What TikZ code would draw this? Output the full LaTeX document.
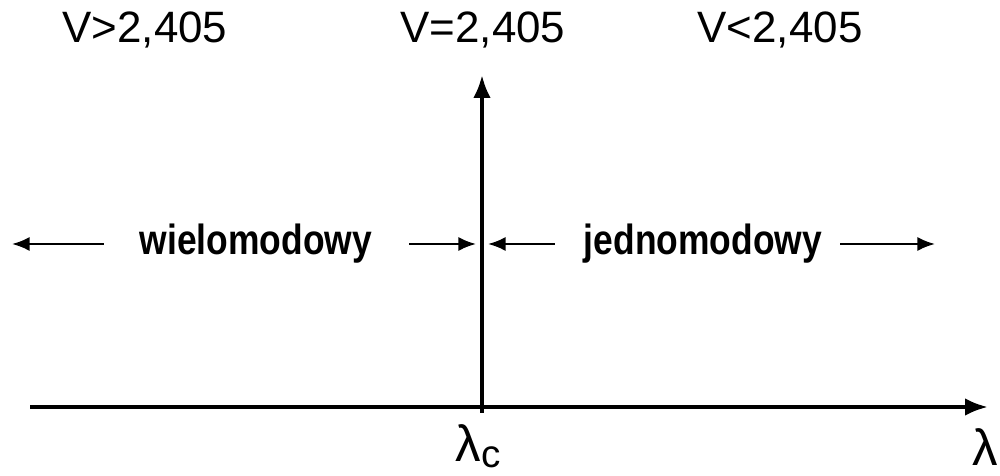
\documentclass[tikz,border=0pt]{standalone}
\usepackage{fontspec}
\setmainfont{Liberation Sans}
\newfontfamily\narrowsf[FakeStretch=0.84]{Liberation Sans}
\usetikzlibrary{arrows.meta,positioning,calc}
\tikzset{
  axis/.style    = {-{Latex[length=13pt,width=10pt]}, line width=2.3pt},
  arr/.style     = {-{Latex[length=10pt,width=8pt]}, line width=1.3pt},
  vlabel/.style  = {font=\fontsize{25}{30}\selectfont, inner sep=0pt},
  region/.style  = {font=\narrowsf\fontsize{24}{28}\selectfont\bfseries, inner sep=0pt},
  lab/.style     = {font=\fontsize{29}{32}\selectfont, inner sep=0pt}
}
\begin{document}
\begin{tikzpicture}[x=0.02cm,y=0.02cm]
\useasboundingbox (0,0) rectangle (1000,476);
\coordinate (xs) at (30,69);
\coordinate (xe) at (988,69);
\coordinate (vs) at (482,63);
\coordinate (ve) at (482,401);
\draw[axis] (xs) -- (xe);
\draw[axis] (vs) -- (ve);
\node[vlabel] (vmulti) at (145,446) {V>2,405};
\node[vlabel] (vcrit) at (483,446) {V=2,405};
\node[vlabel] (vsingle) at (780,446) {V<2,405};
\node[region] (multi) at (256,232) {wielomodowy};
\node[region] (single) at (703,232) {jednomodowy};
\coordinate (ml) at (12,232);
\coordinate (mr) at (476,232);
\coordinate (sl) at (488,232);
\coordinate (sr) at (935,232);
\draw[arr] ($(multi.west)+(-36,0)$) -- (ml);
\draw[arr] ($(multi.east)+(37,0)$) -- (mr);
\draw[arr] ($(single.west)+(-29,0)$) -- (sl);
\draw[arr] ($(single.east)+(18,0)$) -- (sr);
\node[lab, anchor=south] (lc) at (478,8) {λ\raisebox{-0.2ex}{\fontsize{22}{24}\selectfont c}};
\node[lab, anchor=north east] (l) at (998,48) {λ};
\end{tikzpicture}
\end{document}
